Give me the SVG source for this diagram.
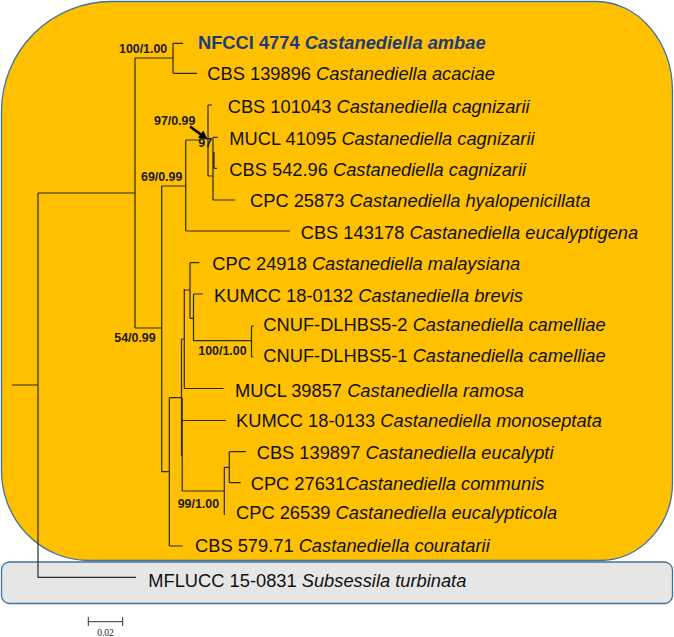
<svg xmlns="http://www.w3.org/2000/svg" width="674" height="637" viewBox="0 0 674 637">
<style>
.t{font-family:"Liberation Sans",Arial,sans-serif;font-size:18.3px;fill:#111}
.i{font-style:italic}
.b{font-family:"Liberation Sans",Arial,sans-serif;font-size:12.4px;font-weight:bold;fill:#1a1a1a}
.br{fill:none;stroke:#2a2a2a;stroke-width:1.2}
.hl{font-weight:bold;fill:#1e3a7a}
</style>
<g id="ingroup-box"><path d="M111,1.5 H597 A76,90 0 0 1 672.5,91.5 V483 A73,78 0 0 1 599.5,560.5 H88 A87,90 0 0 1 1.5,470 V111 A110,110 0 0 1 111,1.5 Z" fill="#FFC000" stroke="#41719C" stroke-width="1.3"/></g>
<g id="outgroup-box"><rect x="1.5" y="562" width="671" height="41.5" rx="8" fill="#E6E6E6" stroke="#41719C" stroke-width="1.3"/></g>
<g id="connectors" class="br">
<path d="M12,385 H38 M38,193 V577.3 H136 M38,193 H135 M135,58 V328"/>
<path d="M135,58 H173 M173,43.3 V73.3 M173,43.3 H183 M173,73.3 H197"/>
<path d="M135,328 H161.7 M161.7,186 V471.7 M161.7,186 H185.7 M185.7,140 V231 M185.7,231 H290 M185.7,140 H201.5"/>
<path d="M208,105 V176 M208,105 H212 M208,176 H213 M213,137.3 V200 M213,137.3 H217.7 M213,200 H235 M214,152 V168.3 M214,168.3 H217"/>
<path d="M161.7,471.7 H169.3 M169.3,397.7 V546 M169.3,546 H182.7 M169.3,397.7 H181.5"/>
<path d="M181.5,339 V456 M182.2,397.7 V491 M181.5,339 H184.3 M181.5,420.5 H226 M182.2,491 H224.3"/>
<path d="M184.3,289 V388.5 M184.3,388.5 H223.5 M184.3,290 H190 M190,262.7 V318.3 M190,262.7 H199.3 M190,318.3 H193.5 M193.5,294 V340.7 M193.5,294 H202.7 M193.5,340.7 H251.5 M251.5,326 V357 M251.5,326 H254 M251.5,357 H253.5"/>
<path d="M224.3,467.3 V515 M224.3,467.3 H229.3 M229.3,451.7 V482.7 M229.3,451.7 H246 M229.3,482.7 H240.7"/>
</g>
<g id="arrow"><line x1="190" y1="126.5" x2="201" y2="134.6" stroke="#000" stroke-width="2.6"/><polygon points="207.5,139.3 198,137.8 203.3,130.6" fill="#000"/></g>
<g id="support">
<text class="b" x="119" y="52.6">100/1.00</text>
<text class="b" x="154" y="124.5">97/0.99</text>
<text class="b" x="198.3" y="147.3">97</text>
<text class="b" x="141" y="181">69/0.99</text>
<text class="b" x="114.3" y="341.7">54/0.99</text>
<text class="b" x="198.3" y="355">100/1.00</text>
<text class="b" x="177.7" y="508.3">99/1.00</text>
</g>
<g id="taxa">
<g id="n1"><text class="t hl" x="198" y="49.3">NFCCI 4774 <tspan class="i">Castanediella ambae</tspan></text></g>
<g id="n2"><text class="t" x="207.3" y="80">CBS 139896 <tspan class="i">Castanediella acaciae</tspan></text></g>
<g id="n3"><text class="t" x="227.7" y="113.3">CBS 101043 <tspan class="i">Castanediella cagnizarii</tspan></text></g>
<g id="n4"><text class="t" x="229.3" y="145">MUCL 41095 <tspan class="i">Castanediella cagnizarii</tspan></text></g>
<g id="n5"><text class="t" x="229.3" y="176">CBS 542.96 <tspan class="i">Castanediella cagnizarii</tspan></text></g>
<g id="n6"><text class="t" x="250" y="207.3">CPC 25873 <tspan class="i">Castanediella hyalopenicillata</tspan></text></g>
<g id="n7"><text class="t" x="300.7" y="239">CBS 143178 <tspan class="i">Castanediella eucalyptigena</tspan></text></g>
<g id="n8"><text class="t" x="212.3" y="270">CPC 24918 <tspan class="i">Castanediella malaysiana</tspan></text></g>
<g id="n9"><text class="t" x="214" y="301.7">KUMCC 18-0132 <tspan class="i">Castanediella brevis</tspan></text></g>
<g id="n10"><text class="t" x="263.3" y="331">CNUF-DLHBS5-2 <tspan class="i">Castanediella camelliae</tspan></text></g>
<g id="n11"><text class="t" x="263.3" y="361.7">CNUF-DLHBS5-1 <tspan class="i">Castanediella camelliae</tspan></text></g>
<g id="n12"><text class="t" x="235" y="397.3">MUCL 39857 <tspan class="i">Castanediella ramosa</tspan></text></g>
<g id="n13"><text class="t" x="236" y="427.3">KUMCC 18-0133 <tspan class="i">Castanediella monoseptata</tspan></text></g>
<g id="n14"><text class="t" x="256.7" y="459">CBS 139897 <tspan class="i">Castanediella eucalypti</tspan></text></g>
<g id="n15"><text class="t" x="250.7" y="490">CPC 27631<tspan class="i">Castanediella communis</tspan></text></g>
<g id="n16"><text class="t" x="236" y="519.3">CPC 26539 <tspan class="i">Castanediella eucalypticola</tspan></text></g>
<g id="n17"><text class="t" x="195" y="551.7">CBS 579.71 <tspan class="i">Castanediella couratarii</tspan></text></g>
<g id="n18"><text class="t" x="148.3" y="587.3">MFLUCC 15-0831 <tspan class="i">Subsessila turbinata</tspan></text></g>
</g>
<g id="scale"><path d="M88.3,621.7 H122.7 M88.3,617 V626 M122.7,617 V626" fill="none" stroke="#333" stroke-width="1"/><text x="105.5" y="636" text-anchor="middle" font-family="Liberation Serif,serif" font-size="9.5" fill="#222">0.02</text></g>
</svg>
